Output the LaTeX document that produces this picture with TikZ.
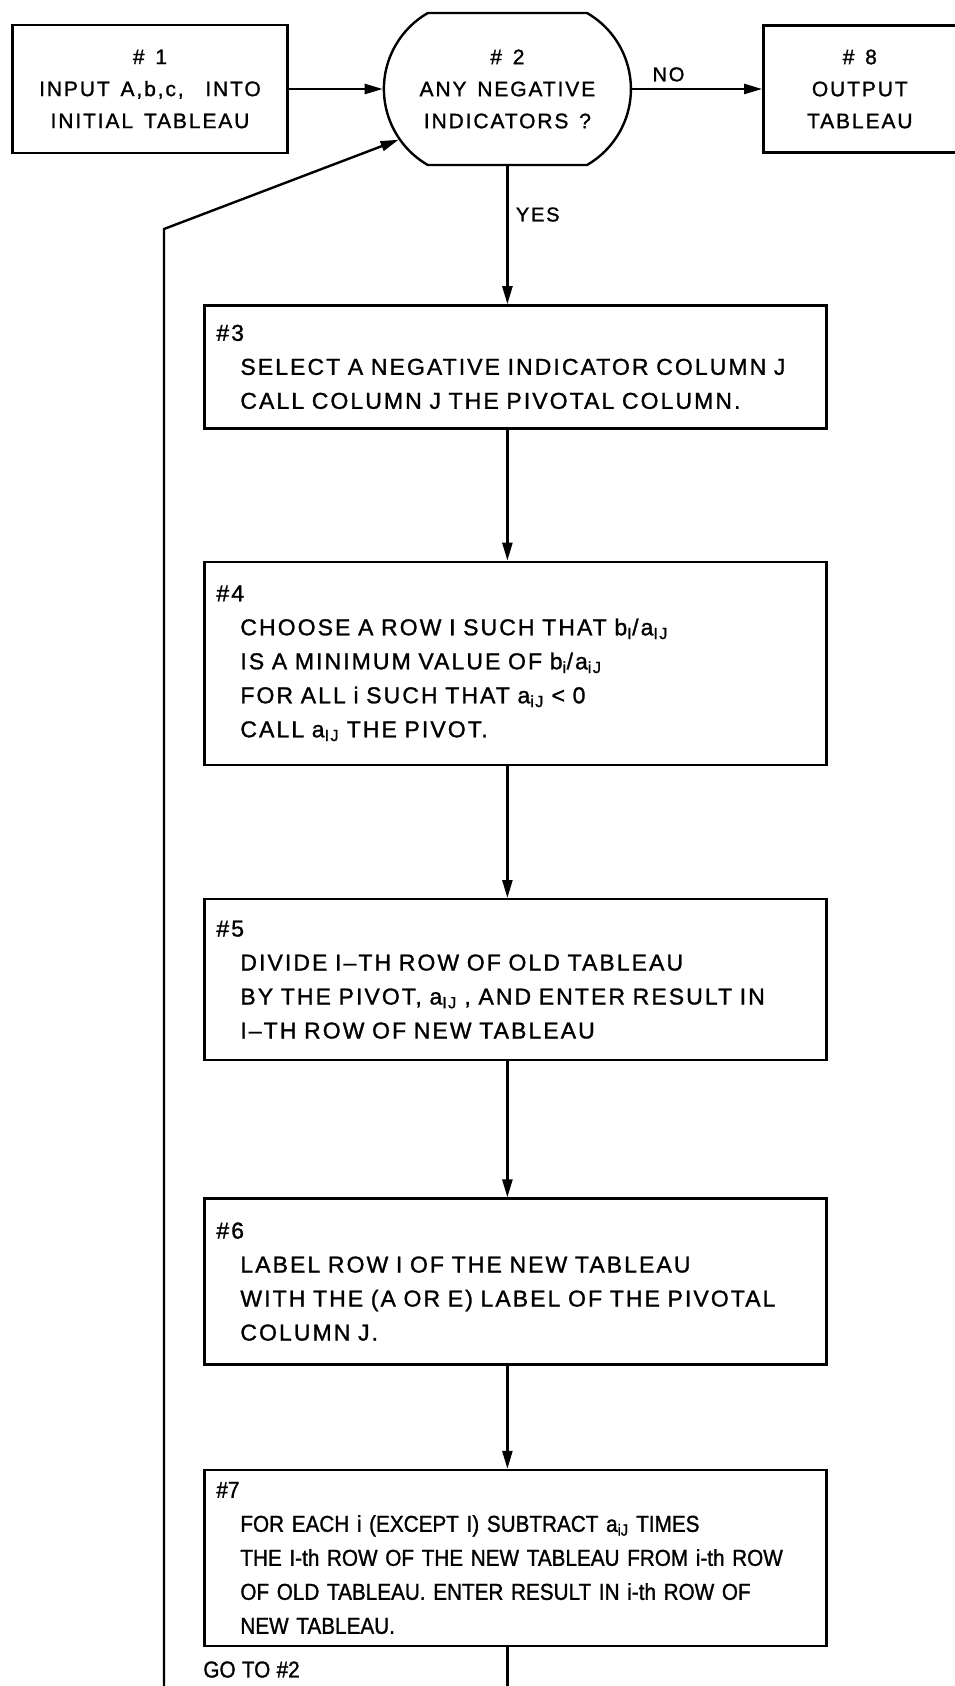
\documentclass[tikz,border=0pt]{standalone}
\usepackage{fontspec}
\setmainfont{Liberation Sans}[LetterSpace=9, WordSpace=1.4, FakeBold=1.2]
\newfontfamily\tightletters{Liberation Sans}[LetterSpace=0, WordSpace=1.1, FakeBold=1.2, FakeStretch=0.9]
\usepackage{tikz}
\usetikzlibrary{shapes.misc,arrows.meta,positioning,calc}

\newcommand{\bodyind}{\hspace*{24pt}}

\begin{document}
\begin{tikzpicture}[
        x=1pt, y=-1pt,
        font=\fontsize{23}{34}\selectfont,
        smallbox/.style={rectangle, draw=black, line width=2.4pt, align=center, inner sep=0pt, font=\fontsize{21}{32}\selectfont},
        testbox/.style={rounded rectangle, rounded rectangle arc length=120, draw=black, line width=2.4pt, align=center, minimum width=247pt, minimum height=152pt, inner sep=0pt, font=\fontsize{21}{32}\selectfont},
        stepbox/.style={rectangle, draw=black, line width=2.4pt, align=left, text width=598pt, inner xsep=12pt, inner ysep=0pt},
        arrow/.style={-{Triangle[length=18pt,width=10pt]}, line width=2.4pt},
        line/.style={line width=2.4pt},
        tag/.style={font=\fontsize{20}{24}\selectfont}
    ]
        \useasboundingbox (0,0) rectangle (954,1686);

        % Nodes
        \node[smallbox, minimum width=275pt, minimum height=128pt] (input) at (150,89) {\# 1\\INPUT A,b,c,\ \ INTO\\INITIAL TABLEAU};
        \node[testbox, right=94pt of input] (test) {\# 2\\ANY NEGATIVE\\INDICATORS ?};
        \node[smallbox, minimum width=193pt, minimum height=127pt, right=130pt of test] (output) {\# 8\\OUTPUT\\TABLEAU};

        \node[stepbox, minimum height=123pt, below=138pt of test, xshift=8pt] (select) {\#3\\
            \bodyind SELECT A NEGATIVE INDICATOR COLUMN J\\
            \bodyind CALL COLUMN J THE PIVOTAL COLUMN.};
        \node[stepbox, minimum height=203pt, below=131pt of select] (choose) {\#4\\
            \bodyind CHOOSE A ROW I SUCH THAT b\textsubscript{I}/a\textsubscript{IJ}\\
            \bodyind IS A MINIMUM VALUE OF b\textsubscript{i}/a\textsubscript{iJ}\\
            \bodyind FOR ALL i SUCH THAT a\textsubscript{iJ} < 0\\
            \bodyind CALL a\textsubscript{IJ} THE PIVOT.};
        \node[stepbox, minimum height=161pt, below=132pt of choose] (divide) {\#5\\
            \bodyind DIVIDE I--TH ROW OF OLD TABLEAU\\
            \bodyind BY THE PIVOT, a\textsubscript{IJ} , AND ENTER RESULT IN\\
            \bodyind I--TH ROW OF NEW TABLEAU};
        \node[stepbox, minimum height=166pt, below=136pt of divide] (relabel) {\#6\\
            \bodyind LABEL ROW I OF THE NEW TABLEAU\\
            \bodyind WITH THE (A OR E) LABEL OF THE PIVOTAL\\
            \bodyind COLUMN J.};
        \node[stepbox, minimum height=176pt, below=103pt of relabel, font=\tightletters\fontsize{23}{34}\selectfont] (update) {\#7\\
            \bodyind FOR EACH i (EXCEPT I) SUBTRACT a\textsubscript{iJ} TIMES\\
            \bodyind THE I-th ROW OF THE NEW TABLEAU FROM i-th ROW\\
            \bodyind OF OLD TABLEAU. ENTER RESULT IN i-th ROW OF\\
            \bodyind NEW TABLEAU.};
        \node[below right=14pt and 0pt of update.south west, inner sep=0pt, font=\tightletters\fontsize{23}{26}\selectfont] (goto) {GO TO \#2};

        \coordinate (exit) at (test.south |- 0,1686);
        \coordinate (loopend) at (164,1686);
        \coordinate (bend) at (164,229);

        % Edges
        \draw[arrow] (input) -- (test);
        \draw[arrow] (test) -- (output) node[tag, pos=0.28, above=3pt] {NO};
        \draw[arrow] (test.south) -- (test.south |- select.north) node[tag, pos=0.35, right=4pt] {YES};
        \draw[arrow] (select.south -| test.south) -- (choose.north -| test.south);
        \draw[arrow] (choose.south -| test.south) -- (divide.north -| test.south);
        \draw[arrow] (divide.south -| test.south) -- (relabel.north -| test.south);
        \draw[arrow] (relabel.south -| test.south) -- (update.north -| test.south);
        \draw[line] (update.south -| test.south) -- (exit);
        \draw[arrow] (loopend) -- (bend) -- (test.205);
    \end{tikzpicture}
\end{document}
